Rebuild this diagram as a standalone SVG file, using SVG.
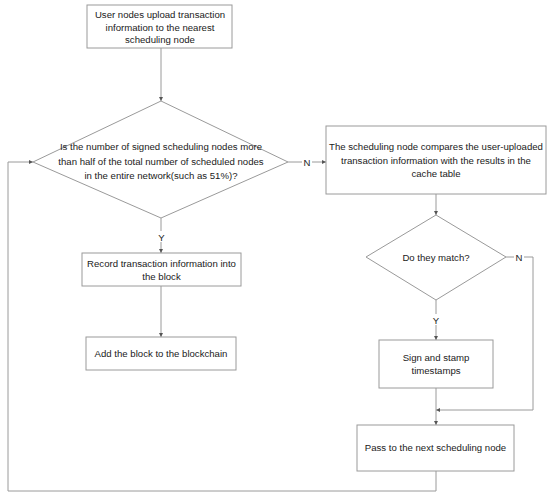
<svg xmlns="http://www.w3.org/2000/svg" width="550" height="499" viewBox="0 0 550 499">
<style>
.b{fill:#fff;stroke:#9a9a9a;stroke-width:1}
.c{fill:none;stroke:#9a9a9a;stroke-width:1}
text{font-family:"Liberation Sans",Arial,sans-serif;font-size:9.6px;fill:#1a1a1a;text-anchor:middle}
.l{fill:#fff;stroke:none}
</style>
<defs>
<marker id="a" viewBox="0 0 6 6" refX="6" refY="3" markerWidth="4" markerHeight="4" orient="auto" markerUnits="userSpaceOnUse">
<path d="M0,0L6,3L0,6z" fill="#555"/>
</marker>
</defs>
<rect width="550" height="499" fill="#fff"/>
<g id="connectors">
<path class="c" d="M161,48V101" marker-end="url(#a)"/>
<path class="c" d="M161,218V253" marker-end="url(#a)"/>
<path class="c" d="M161,286V337" marker-end="url(#a)"/>
<path class="c" d="M288,162H326" marker-end="url(#a)"/>
<path class="c" d="M436,194V215" marker-end="url(#a)"/>
<path class="c" d="M436,300V340" marker-end="url(#a)"/>
<path class="c" d="M506,257H533V410H436" marker-end="url(#a)"/>
<path class="c" d="M436,388V425" marker-end="url(#a)"/>
<path class="c" d="M436,471V491H8V162H33" marker-end="url(#a)"/>
<rect class="l" x="157" y="231" width="9" height="11"/>
<text x="161.5" y="240.5">Y</text>
<rect class="l" x="302" y="156" width="10" height="11"/>
<text x="307" y="165.5">N</text>
<rect class="l" x="514" y="251" width="10" height="11"/>
<text x="519" y="260.5">N</text>
<rect class="l" x="432" y="314" width="9" height="11"/>
<text x="436" y="323.5">Y</text>
</g>
<g id="n1">
<rect class="b" x="87" y="5" width="145" height="43"/>
<text x="160" y="18">User nodes upload transaction</text>
<text x="160" y="30.5">information to the nearest</text>
<text x="160" y="43">scheduling node</text>
</g>
<g id="d1">
<polygon class="b" points="161,101 288,162 161,218 33,162"/>
<text x="161" y="150">Is the number of signed scheduling nodes more</text>
<text x="161" y="164.5">than half of the total number of scheduled nodes</text>
<text x="161" y="179">in the entire network(such as 51%)?</text>
</g>
<g id="n2">
<rect class="b" x="82" y="253" width="159" height="33"/>
<text x="161.5" y="267">Record transaction information into</text>
<text x="161.5" y="280">the block</text>
</g>
<g id="n3">
<rect class="b" x="86" y="337" width="150" height="33"/>
<text x="161" y="357">Add the block to the blockchain</text>
</g>
<g id="n4">
<rect class="b" x="326" y="126" width="220" height="68"/>
<text x="436" y="150">The scheduling node compares the user-uploaded</text>
<text x="436" y="163.5">transaction information with the results in the</text>
<text x="436" y="177">cache table</text>
</g>
<g id="d2">
<polygon class="b" points="436,215 506,257 436,300 366,257"/>
<text x="436" y="260.5">Do they match?</text>
</g>
<g id="n5">
<rect class="b" x="379" y="340" width="114" height="48"/>
<text x="436" y="361">Sign and stamp</text>
<text x="436" y="374">timestamps</text>
</g>
<g id="n6">
<rect class="b" x="357" y="425" width="157" height="46"/>
<text x="435.5" y="451">Pass to the next scheduling node</text>
</g>
</svg>
